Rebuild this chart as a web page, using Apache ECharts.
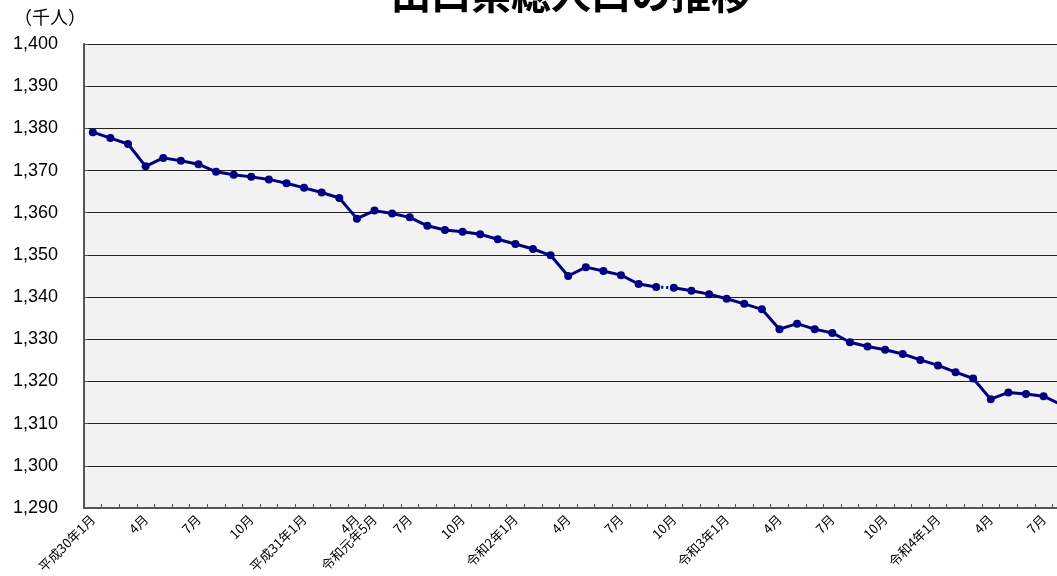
<!DOCTYPE html>
<html>
<head>
<meta charset="utf-8">
<script src="https://cdn.jsdelivr.net/npm/echarts@6/dist/echarts.min.js"></script>
<style>
html,body{margin:0;padding:0;background:#fff;}
#chart{width:1057px;height:576px;}
</style>
</head>
<body>
<div id="chart"></div>
<script>
const titleText = '山口県総人口の推移';
const unitText = '（千人）';
const categories = [
  '平成30年1月','2月','3月','4月','5月','6月','7月','8月','9月','10月','11月','12月',
  '平成31年1月','2月','3月','4月','令和元年5月','6月','7月','8月','9月','10月','11月','12月',
  '令和2年1月','2月','3月','4月','5月','6月','7月','8月','9月','10月','11月','12月',
  '令和3年1月','2月','3月','4月','5月','6月','7月','8月','9月','10月','11月','12月',
  '令和4年1月','2月','3月','4月','5月','6月','7月','8月'
];
const population = [
  1379.1, 1377.7, 1376.3, 1371.0, 1373.0, 1372.3, 1371.5, 1369.7, 1369.0, 1368.5, 1367.9, 1367.0,
  1365.9, 1364.8, 1363.5, 1358.6, 1360.5, 1359.8, 1358.9, 1356.9, 1355.9, 1355.5, 1354.9, 1353.7,
  1352.6, 1351.4, 1349.9, 1345.0, 1347.1, 1346.2, 1345.2, 1343.1, 1342.4, 1342.2, 1341.5, 1340.7,
  1339.6, 1338.4, 1337.1, 1332.4, 1333.7, 1332.4, 1331.5, 1329.3, 1328.3, 1327.5, 1326.5, 1325.1,
  1323.8, 1322.2, 1320.7, 1315.8, 1317.4, 1317.0, 1316.5, 1314.5
];
const labelIndices = [0,3,6,9,12,15,16,18,21,24,27,30,33,36,39,42,45,48,51,54];
const breakIndex = 32; // dotted link between this index and the next
const yTicks = {min: 1290, max: 1400, interval: 10};

const solidBefore = population.map((v,i)=> i<=breakIndex ? v : null);
const dotted = population.map((v,i)=> (i===breakIndex || i===breakIndex+1) ? v : null);
const solidAfter = population.map((v,i)=> i>=breakIndex+1 ? v : null);

const navy = '#000080';
const chart = echarts.init(document.getElementById('chart'));
const lineBase = {
  type: 'line',
  symbol: 'circle',
  symbolSize: 8,
  itemStyle: {color: navy},
  connectNulls: false,
  animation: false,
  clip: true,
  z: 5
};
chart.setOption({
  animation: false,
  backgroundColor: '#ffffff',
  title: {
    text: titleText,
    left: 386,
    top: -31,
    textStyle: {fontSize: 40, fontWeight: 'bold', color: '#000', fontFamily: '"Noto Sans CJK JP", sans-serif'}
  },
  graphic: [{
    type: 'text',
    left: 14,
    top: 8,
    style: {text: unitText, fill: '#000', font: '18px "Noto Sans CJK JP", sans-serif'}
  }],
  grid: {
    left: 84,
    top: 44,
    width: 986,
    bottom: 68,
    show: true,
    containLabel: false,
    outerBoundsMode: 'none',
    backgroundColor: '#f2f2f2',
    borderWidth: 0
  },
  xAxis: {
    type: 'category',
    data: categories,
    boundaryGap: true,
    axisLine: {show: true, lineStyle: {color: '#555', width: 2}},
    axisTick: {show: true, inside: true, length: 4, interval: 0, lineStyle: {color: '#555'}},
    axisLabel: {
      interval: (i)=> labelIndices.indexOf(i) >= 0,
      rotate: 45,
      fontSize: 13,
      margin: 9,
      color: '#000',
      hideOverlap: false,
      fontFamily: '"Noto Sans CJK JP", sans-serif'
    },
    splitLine: {show: false}
  },
  yAxis: {
    type: 'value',
    min: yTicks.min,
    max: yTicks.max,
    interval: yTicks.interval,
    axisLine: {show: true, lineStyle: {color: '#555', width: 2}},
    axisTick: {show: true, inside: true, length: 4, lineStyle: {color: '#555'}},
    axisLabel: {
      formatter: (v)=> v.toLocaleString('en-US'),
      fontSize: 18,
      margin: 26,
      color: '#000',
      fontFamily: '"Liberation Sans", Arial, sans-serif'
    },
    splitLine: {show: true, lineStyle: {color: '#222', width: 1}}
  },
  series: [
    Object.assign({}, lineBase, {data: solidBefore, lineStyle: {color: navy, width: 3}}),
    Object.assign({}, lineBase, {data: dotted, symbol: 'none', lineStyle: {color: navy, width: 3, type: [2,3]}, z: 4}),
    Object.assign({}, lineBase, {data: solidAfter, lineStyle: {color: navy, width: 3}})
  ]
});
</script>
</body>
</html>
